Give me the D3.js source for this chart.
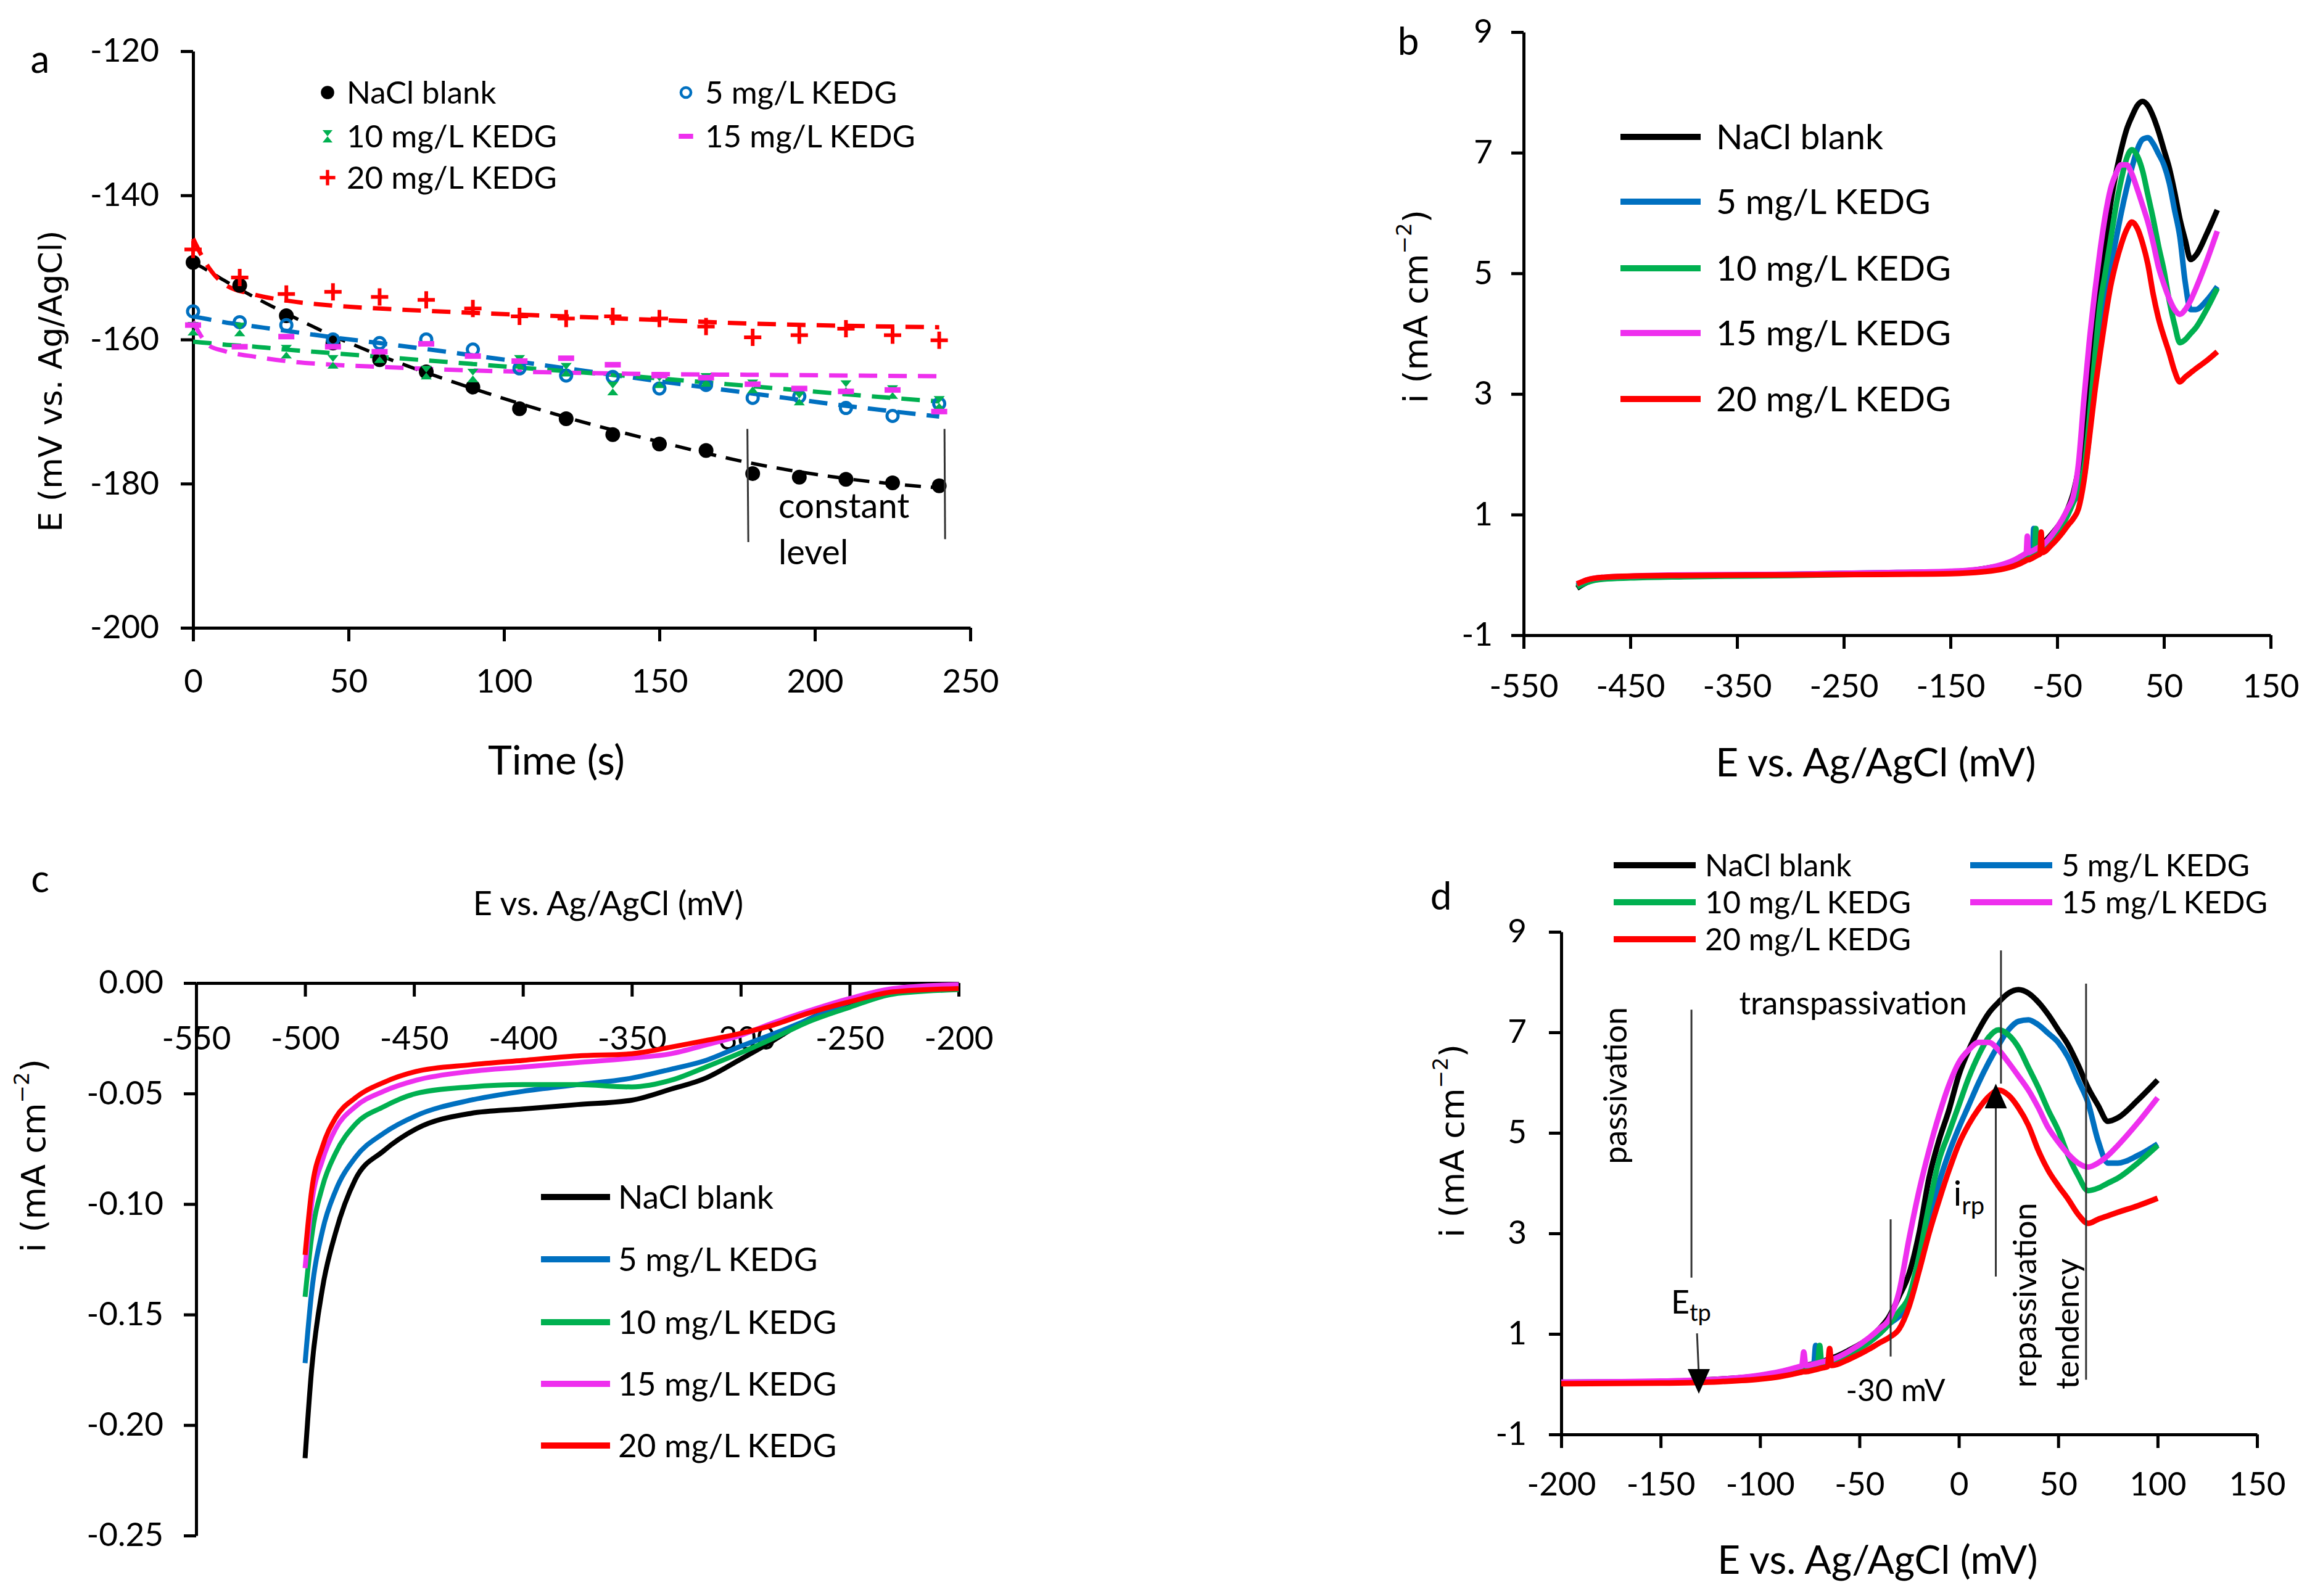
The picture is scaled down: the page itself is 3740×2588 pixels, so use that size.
<!DOCTYPE html>
<html lang="en">
<head>
<meta charset="UTF-8">
<title>KEDG polarization figure</title>
<script src="https://cdn.jsdelivr.net/npm/d3@7/dist/d3.min.js"></script>
<style>
  body { margin: 0; background: #ffffff; }
</style>
</head>
<body>
<div id="figure"></div>
<script>
// ---------- series shared by all panels ----------
var seriesNames  = ["NaCl blank", "5 mg/L KEDG", "10 mg/L KEDG", "15 mg/L KEDG", "20 mg/L KEDG"];
var seriesColors = ["#000000", "#0070C0", "#00B050", "#EE2FEE", "#FF0000"];
var markerTypes  = ["dot", "ring", "hourglass", "dash", "plus"];

// ---------- panel a: potential vs time ----------
var timeA    = [0, 15, 30, 45, 60, 75, 90, 105, 120, 135, 150, 165, 180, 195, 210, 225, 240];
var ocpBlank = [-149.3, -152.5, -156.7, -160.5, -162.8, -164.5, -166.6, -169.6, -171.0, -173.2, -174.5, -175.4, -178.6, -179.1, -179.4, -179.9, -180.3];
var ocp5     = [-156.1, -157.6, -158.0, -160.0, -160.5, -160.0, -161.4, -164.0, -165.0, -165.2, -166.8, -166.3, -168.1, -167.9, -169.5, -170.6, -168.9];
var ocp10    = [-158.5, -158.6, -161.7, -163.1, -162.3, -164.6, -165.0, -163.1, -164.2, -166.8, -165.8, -165.6, -166.5, -168.2, -166.6, -167.3, -168.8];
var ocp15    = [-158.0, -161.0, -159.6, -161.0, -161.7, -160.6, -162.3, -163.0, -162.6, -163.5, -165.0, -165.3, -166.2, -166.8, -167.2, -167.0, -170.0];
var ocp20    = [-147.5, -151.4, -153.7, -153.4, -154.1, -154.5, -155.7, -156.8, -157.1, -156.8, -157.1, -158.2, -159.7, -159.4, -158.5, -159.4, -160.1];

// dashed trend lines
var fitTimeA = [0, 5, 10, 20, 30, 45, 60, 90, 120, 150, 180, 210, 240];
var fitBlank = [-149.3, -150.5, -151.8, -154.2, -156.4, -159.5, -162.2, -166.8, -170.8, -174.2, -177.2, -179.3, -180.6];
var fit5     = [-156.8, -157.2, -157.6, -158.2, -158.8, -159.7, -160.5, -162.2, -164.0, -165.8, -167.5, -169.2, -170.7];
var fit10    = [-160.3, -160.5, -160.7, -161.0, -161.4, -161.9, -162.4, -163.4, -164.4, -165.4, -166.5, -167.6, -168.6];
var fit15    = [-157.5, -160.8, -161.6, -162.4, -163.0, -163.5, -163.8, -164.3, -164.6, -164.8, -164.9, -165.0, -165.1];
var fit20    = [-146.0, -150.0, -152.3, -153.8, -154.6, -155.3, -155.7, -156.3, -156.8, -157.3, -157.8, -158.1, -158.3];

// ---------- panels b and d: anodic scan ----------
var potAnodic = [-500, -490, -475, -450, -400, -300, -200, -150, -120, -100, -90, -80, -79, -78, -77, -73, -72, -71, -70, -69,
                 -66, -65, -64, -55, -45, -40, -35, -30, -25, -20, -15, -10, -5, 0, 5, 10, 15, 20, 25, 30,
                 35, 40, 45, 50, 55, 60, 65, 70, 75, 80, 90, 100];
var anBlank = [-0.22, -0.12, -0.06, -0.04, -0.02, 0.00, 0.03, 0.05, 0.10, 0.17, 0.24, 0.34, 0.35, 0.36, 0.37, 0.41, 0.42, 0.43, 0.44, 0.45,
               0.49, 0.51, 0.52, 0.68, 0.92, 1.10, 1.35, 1.75, 2.20, 3.00, 4.10, 4.85, 5.45, 6.15, 6.65, 7.05, 7.38, 7.60, 7.78, 7.85,
               7.78, 7.60, 7.35, 7.05, 6.75, 6.35, 5.90, 5.55, 5.23, 5.30, 5.65, 6.05];
var an5     = [-0.18, -0.10, -0.05, -0.03, -0.01, 0.01, 0.04, 0.05, 0.09, 0.16, 0.22, 0.32, 0.33, 0.34, 0.35, 0.38, 0.77, 0.40, 0.41, 0.42,
               0.45, 0.46, 0.47, 0.62, 0.84, 1.00, 1.20, 1.35, 1.60, 2.30, 3.20, 4.00, 4.60, 5.10, 5.55, 6.00, 6.40, 6.75, 7.05, 7.22,
               7.25, 7.15, 6.98, 6.80, 6.50, 6.05, 5.60, 4.85, 4.40, 4.40, 4.55, 4.78];
var an10    = [-0.20, -0.12, -0.07, -0.05, -0.03, -0.01, 0.02, 0.04, 0.08, 0.15, 0.21, 0.31, 0.32, 0.33, 0.34, 0.37, 0.38, 0.39, 0.77, 0.41,
               0.44, 0.45, 0.46, 0.61, 0.84, 1.00, 1.20, 1.45, 1.75, 2.55, 3.55, 4.45, 5.00, 5.55, 6.10, 6.55, 6.90, 7.05, 6.95, 6.70,
               6.30, 5.90, 5.45, 5.05, 4.55, 4.15, 3.85, 3.90, 4.00, 4.10, 4.40, 4.75];
var an15    = [-0.15, -0.08, -0.04, -0.02, 0.00, 0.01, 0.04, 0.06, 0.10, 0.18, 0.25, 0.35, 0.36, 0.64, 0.37, 0.40, 0.41, 0.42, 0.43, 0.44,
               0.47, 0.48, 0.49, 0.66, 0.93, 1.10, 1.30, 1.85, 2.90, 3.85, 4.65, 5.35, 5.95, 6.40, 6.65, 6.80, 6.80, 6.65, 6.40, 6.13,
               5.85, 5.50, 5.10, 4.82, 4.58, 4.40, 4.32, 4.40, 4.55, 4.75, 5.20, 5.70];
var an20    = [-0.15, -0.08, -0.04, -0.02, -0.01, 0.00, 0.01, 0.02, 0.05, 0.10, 0.15, 0.23, 0.24, 0.25, 0.25, 0.28, 0.29, 0.30, 0.31, 0.32,
               0.35, 0.71, 0.37, 0.50, 0.70, 0.82, 0.93, 1.10, 1.55, 2.25, 3.00, 3.65, 4.25, 4.78, 5.17, 5.48, 5.72, 5.85, 5.75, 5.50,
               5.15, 4.65, 4.25, 3.95, 3.68, 3.38, 3.20, 3.28, 3.35, 3.42, 3.55, 3.70];

// ---------- panel c: cathodic scan ----------
var potCathodic = [-500, -497, -492, -486, -477, -464, -449, -424, -400, -375, -350, -332, -316, -301, -285, -270, -250, -230, -200];
var caBlank = [-0.215, -0.175, -0.138, -0.113, -0.089, -0.076, -0.066, -0.059, -0.057, -0.055, -0.053, -0.048, -0.043, -0.035, -0.026, -0.017, -0.0095, -0.004, -0.002];
var ca5     = [-0.172, -0.140, -0.112, -0.094, -0.079, -0.068, -0.060, -0.053, -0.049, -0.046, -0.043, -0.039, -0.035, -0.029, -0.023, -0.017, -0.0085, -0.003, -0.001];
var ca10    = [-0.142, -0.115, -0.092, -0.077, -0.064, -0.056, -0.050, -0.047, -0.046, -0.046, -0.047, -0.044, -0.038, -0.032, -0.025, -0.018, -0.011, -0.005, -0.003];
var ca15    = [-0.129, -0.100, -0.080, -0.066, -0.056, -0.049, -0.044, -0.040, -0.038, -0.036, -0.034, -0.032, -0.028, -0.024, -0.018, -0.013, -0.007, -0.0025, -0.0007];
var ca20    = [-0.123, -0.094, -0.074, -0.061, -0.052, -0.045, -0.040, -0.037, -0.035, -0.033, -0.032, -0.029, -0.026, -0.023, -0.019, -0.014, -0.0085, -0.004, -0.0025];

// ---------- tick values ----------
var ticksTimeA = [0, 50, 100, 150, 200, 250];
var ticksOcpA  = [-200, -180, -160, -140, -120];
var ticksPotB  = [-550, -450, -350, -250, -150, -50, 50, 150];
var ticksCurB  = [-1, 1, 3, 5, 7, 9];
var ticksPotC  = [-550, -500, -450, -400, -350, -300, -250, -200];
var ticksCurC  = [-0.25, -0.20, -0.15, -0.10, -0.05, 0];
var ticksPotD  = [-200, -150, -100, -50, 0, 50, 100, 150];
var ticksCurD  = [-1, 1, 3, 5, 7, 9];

var ocpSeries  = [ocpBlank, ocp5, ocp10, ocp15, ocp20];
var fitSeries  = [fitBlank, fit5, fit10, fit15, fit20];
var anSeries   = [anBlank, an5, an10, an15, an20];
var caSeries   = [caBlank, ca5, ca10, ca15, ca20];

// ---------- drawing ----------
var FONT = "Lato, 'Open Sans', sans-serif";
var TITLE_FONT = "'DejaVu Sans', Verdana, sans-serif";

var svg = d3.select("#figure").append("svg")
    .attr("width", 3740)
    .attr("height", 2588);
svg.append("rect").attr("width", 3740).attr("height", 2588).attr("fill", "#ffffff");

function plainNum(d) { return String(d); }
function twoDec(d) { return d.toFixed(2); }

function styleAxis(g) {
  g.attr("font-size", null).attr("font-family", null);
  g.selectAll(".domain").attr("stroke", "#000").attr("stroke-width", 5);
  g.selectAll(".tick line").attr("stroke", "#000").attr("stroke-width", 5);
  g.selectAll(".tick text").attr("font-family", FONT).attr("font-size", 53).attr("fill", "#000");
}

function bottomAxis(scale, ticks, y, pad, fmt) {
  var g = svg.append("g")
      .attr("transform", "translate(0," + y + ")")
      .call(d3.axisBottom(scale).tickValues(ticks).tickSize(22).tickSizeOuter(0)
            .tickPadding(pad).tickFormat(fmt || plainNum));
  styleAxis(g);
}

function leftAxis(scale, ticks, x, pad, fmt) {
  var g = svg.append("g")
      .attr("transform", "translate(" + x + ",0)")
      .call(d3.axisLeft(scale).tickValues(ticks).tickSize(20).tickSizeOuter(0)
            .tickPadding(pad).tickFormat(fmt || plainNum));
  styleAxis(g);
}

function label(x, y, txt, size, anchor) {
  return svg.append("text")
      .attr("x", x).attr("y", y)
      .attr("dy", "0.35em")
      .attr("text-anchor", anchor || "middle")
      .attr("font-family", FONT)
      .attr("font-size", size)
      .attr("fill", "#000")
      .text(txt);
}

function rotatedLabel(cx, cy, txt, size, font) {
  return svg.append("text")
      .attr("transform", "translate(" + cx + "," + cy + ") rotate(-90)")
      .attr("dy", "0.35em")
      .attr("text-anchor", "middle")
      .attr("font-family", font || FONT)
      .attr("font-size", size)
      .attr("fill", "#000")
      .text(txt);
}

function currentTitle(cx, cy) {
  var t = svg.append("text")
      .attr("transform", "translate(" + cx + "," + cy + ") rotate(-90)")
      .attr("dy", "0.35em")
      .attr("text-anchor", "middle")
      .attr("font-family", TITLE_FONT)
      .attr("font-size", 54)
      .attr("fill", "#000");
  t.append("tspan").text("i (mA cm");
  t.append("tspan").attr("font-size", 34).attr("dy", "-0.75em").text("\u22122");
  t.append("tspan").attr("dy", "0.47em").text(")");
}

function curvePath(xs, ys, sx, sy) {
  return d3.line()
      .x(function(d) { return sx(d[0]); })
      .y(function(d) { return sy(d[1]); })
      .curve(d3.curveMonotoneX)(d3.zip(xs, ys));
}

function marker(g, type, x, y, color, s) {
  s = s || 1;
  if (type === "dot") {
    g.append("circle").attr("cx", x).attr("cy", y).attr("r", 12 * s).attr("fill", color);
  } else if (type === "ring") {
    g.append("circle").attr("cx", x).attr("cy", y).attr("r", 9 * s)
      .attr("fill", "none").attr("stroke", color).attr("stroke-width", 5 * s);
  } else if (type === "hourglass") {
    g.append("path")
      .attr("d", "M" + (x - 9 * s) + "," + (y - 11 * s) + "h" + 18 * s + "l" + (-18 * s) + "," + 22 * s + "h" + 18 * s + "z")
      .attr("fill", color);
  } else if (type === "dash") {
    g.append("rect").attr("x", x - 13 * s).attr("y", y - 4.5 * s)
      .attr("width", 26 * s).attr("height", 9 * s).attr("fill", color);
  } else if (type === "plus") {
    g.append("path")
      .attr("d", "M" + (x - 14 * s) + "," + y + "h" + 28 * s + "M" + x + "," + (y - 14 * s) + "v" + 28 * s)
      .attr("stroke", color).attr("stroke-width", 6 * s).attr("fill", "none");
  }
}

function thinLine(x1, y1, x2, y2) {
  svg.append("line")
      .attr("x1", x1).attr("y1", y1).attr("x2", x2).attr("y2", y2)
      .attr("stroke", "#333").attr("stroke-width", 3);
}

function arrowHead(x, y, dir) {
  // dir: 1 = pointing down, -1 = pointing up; (x, y) is the tip
  var h = 40 * dir, w = 18;
  svg.append("path")
      .attr("d", "M" + x + "," + y + "L" + (x - w) + "," + (y - h) + "L" + (x + w) + "," + (y - h) + "Z")
      .attr("fill", "#000");
}

// ===== panel a =====
var ax = d3.scaleLinear().domain([0, 250]).range([313, 1573]);
var ay = d3.scaleLinear().domain([-200, -120]).range([1018, 83]);

bottomAxis(ax, ticksTimeA, ay(-200), 45);
leftAxis(ay, ticksOcpA, ax(0), 35);

var gA = svg.append("g");
fitSeries.forEach(function(vals, i) {
  gA.append("path")
    .attr("d", curvePath(fitTimeA, vals, ax, ay))
    .attr("fill", "none")
    .attr("stroke", seriesColors[i])
    .attr("stroke-width", i === 0 ? 5.5 : 7)
    .attr("stroke-dasharray", i === 0 ? "26,16" : "30,18");
});
ocpSeries.forEach(function(vals, i) {
  vals.forEach(function(v, j) {
    marker(gA, markerTypes[i], ax(timeA[j]), ay(v), seriesColors[i]);
  });
});

// constant level bracket
thinLine(ax(178.3), ay(-172.4), ax(178.6), ay(-188.1));
thinLine(ax(241.7), ay(-172.4), ax(241.9), ay(-187.7));
label(ax(188.3), ay(-183.1), "constant", 56, "start");
label(ax(188.3), ay(-189.5), "level", 56, "start");

label(902, 1233, "Time (s)", 66);
rotatedLabel(82, 618, "E (mV vs. Ag/AgCl)", 52, TITLE_FONT);
label(65, 96, "a", 62);

// legend a
var legA = [[531, 150], [1112, 150], [531, 221], [1112, 221], [531, 288]];
legA.forEach(function(p, i) {
  marker(svg, markerTypes[i], p[0], p[1], seriesColors[i], 0.9);
  label(p[0] + 31, p[1], seriesNames[i], 51, "start");
});

// ===== panel b =====
var bx = d3.scaleLinear().domain([-550, 150]).range([2470, 3681]);
var by = d3.scaleLinear().domain([-1, 9]).range([1030, 52]);

bottomAxis(bx, ticksPotB, by(-1), 41);
leftAxis(by, ticksCurB, bx(-550), 30);

anSeries.forEach(function(vals, i) {
  svg.append("path")
    .attr("d", curvePath(potAnodic, vals, bx, by))
    .attr("fill", "none")
    .attr("stroke", seriesColors[i])
    .attr("stroke-width", 9)
    .attr("stroke-linejoin", "round");
});

label(3041, 1237, "E vs. Ag/AgCl (mV)", 64);
currentTitle(2295, 497);
label(2283, 67, "b", 62);

var legBy = [222, 327, 435, 540, 647];
legBy.forEach(function(y, i) {
  svg.append("line").attr("x1", 2627).attr("x2", 2757).attr("y1", y).attr("y2", y)
    .attr("stroke", seriesColors[i]).attr("stroke-width", 10);
  label(2782, y, seriesNames[i], 57, "start");
});

// ===== panel c =====
var cx = d3.scaleLinear().domain([-550, -200]).range([318, 1554]);
var cy = d3.scaleLinear().domain([-0.25, 0]).range([2490, 1594]);

bottomAxis(cx, ticksPotC, cy(0), 48);
leftAxis(cy, ticksCurC, cx(-550), 33, twoDec);

caSeries.forEach(function(vals, i) {
  svg.append("path")
    .attr("d", curvePath(potCathodic, vals, cx, cy))
    .attr("fill", "none")
    .attr("stroke", seriesColors[i])
    .attr("stroke-width", 8)
    .attr("stroke-linejoin", "round");
});

label(986, 1465, "E vs. Ag/AgCl (mV)", 54);
currentTitle(54, 1874);
label(65, 1425, "c", 62);

var legCy = [1941, 2042, 2144, 2244, 2344];
legCy.forEach(function(y, i) {
  svg.append("line").attr("x1", 877).attr("x2", 989).attr("y1", y).attr("y2", y)
    .attr("stroke", seriesColors[i]).attr("stroke-width", 10);
  label(1002, y, seriesNames[i], 53, "start");
});

// ===== panel d =====
var dx = d3.scaleLinear().domain([-200, 150]).range([2531, 3659]);
var dy = d3.scaleLinear().domain([-1, 9]).range([2326, 1511]);

bottomAxis(dx, ticksPotD, dy(-1), 39);
leftAxis(dy, ticksCurD, dx(-200), 36);

anSeries.forEach(function(vals, i) {
  var xs = [], ys = [];
  potAnodic.forEach(function(e, j) {
    if (e >= -200) { xs.push(e); ys.push(vals[j]); }
  });
  svg.append("path")
    .attr("d", curvePath(xs, ys, dx, dy))
    .attr("fill", "none")
    .attr("stroke", seriesColors[i])
    .attr("stroke-width", 9)
    .attr("stroke-linejoin", "round");
});

// annotations
rotatedLabel(dx(-172.7), dy(5.94), "passivation", 52);
label(dx(-53.2), dy(7.58), "transpassivation", 52);
thinLine(dx(-134.5), dy(7.45), dx(-134.5), dy(2.12));
thinLine(dx(-131.7), dy(1.01), dx(-130.8), dy(0.2));
arrowHead(dx(-130.8), dy(-0.19), 1);
var etp = svg.append("text")
    .attr("x", dx(-144.8)).attr("y", dy(1.40))
    .attr("font-family", FONT).attr("font-size", 52).attr("fill", "#000");
etp.append("tspan").text("E");
etp.append("tspan").attr("font-size", 38).attr("dy", "0.3em").text("tp");

thinLine(dx(21.2), dy(8.63), dx(21.2), dy(5.98));
thinLine(dx(18.6), dy(2.14), dx(18.6), dy(5.5));
arrowHead(dx(18.6), dy(5.98), -1);
var irp = svg.append("text")
    .attr("x", dx(-2.7)).attr("y", dy(3.55))
    .attr("font-family", FONT).attr("font-size", 56).attr("fill", "#000");
irp.append("tspan").text("i");
irp.append("tspan").attr("font-size", 40).attr("dy", "0.35em").text("rp");

thinLine(dx(-34.3), dy(3.28), dx(-34.3), dy(0.55));
label(dx(-31.8), dy(-0.12), "-30 mV", 50);

rotatedLabel(dx(33.3), dy(1.77), "repassivation", 52);
rotatedLabel(dx(54.7), dy(1.20), "tendency", 52);
thinLine(dx(64.0), dy(7.97), dx(64.0), dy(0.09));

label(3044, 2530, "E vs. Ag/AgCl (mV)", 64);
currentTitle(2354, 1850);
label(2336, 1453, "d", 62);

var legD = [[2616, 1403], [3194, 1403], [2616, 1463], [3194, 1463], [2616, 1523]];
legD.forEach(function(p, i) {
  svg.append("line").attr("x1", p[0]).attr("x2", p[0] + 133).attr("y1", p[1]).attr("y2", p[1])
    .attr("stroke", seriesColors[i]).attr("stroke-width", 10);
  label(p[0] + 148, p[1], seriesNames[i], 50, "start");
});
</script>
</body>
</html>
